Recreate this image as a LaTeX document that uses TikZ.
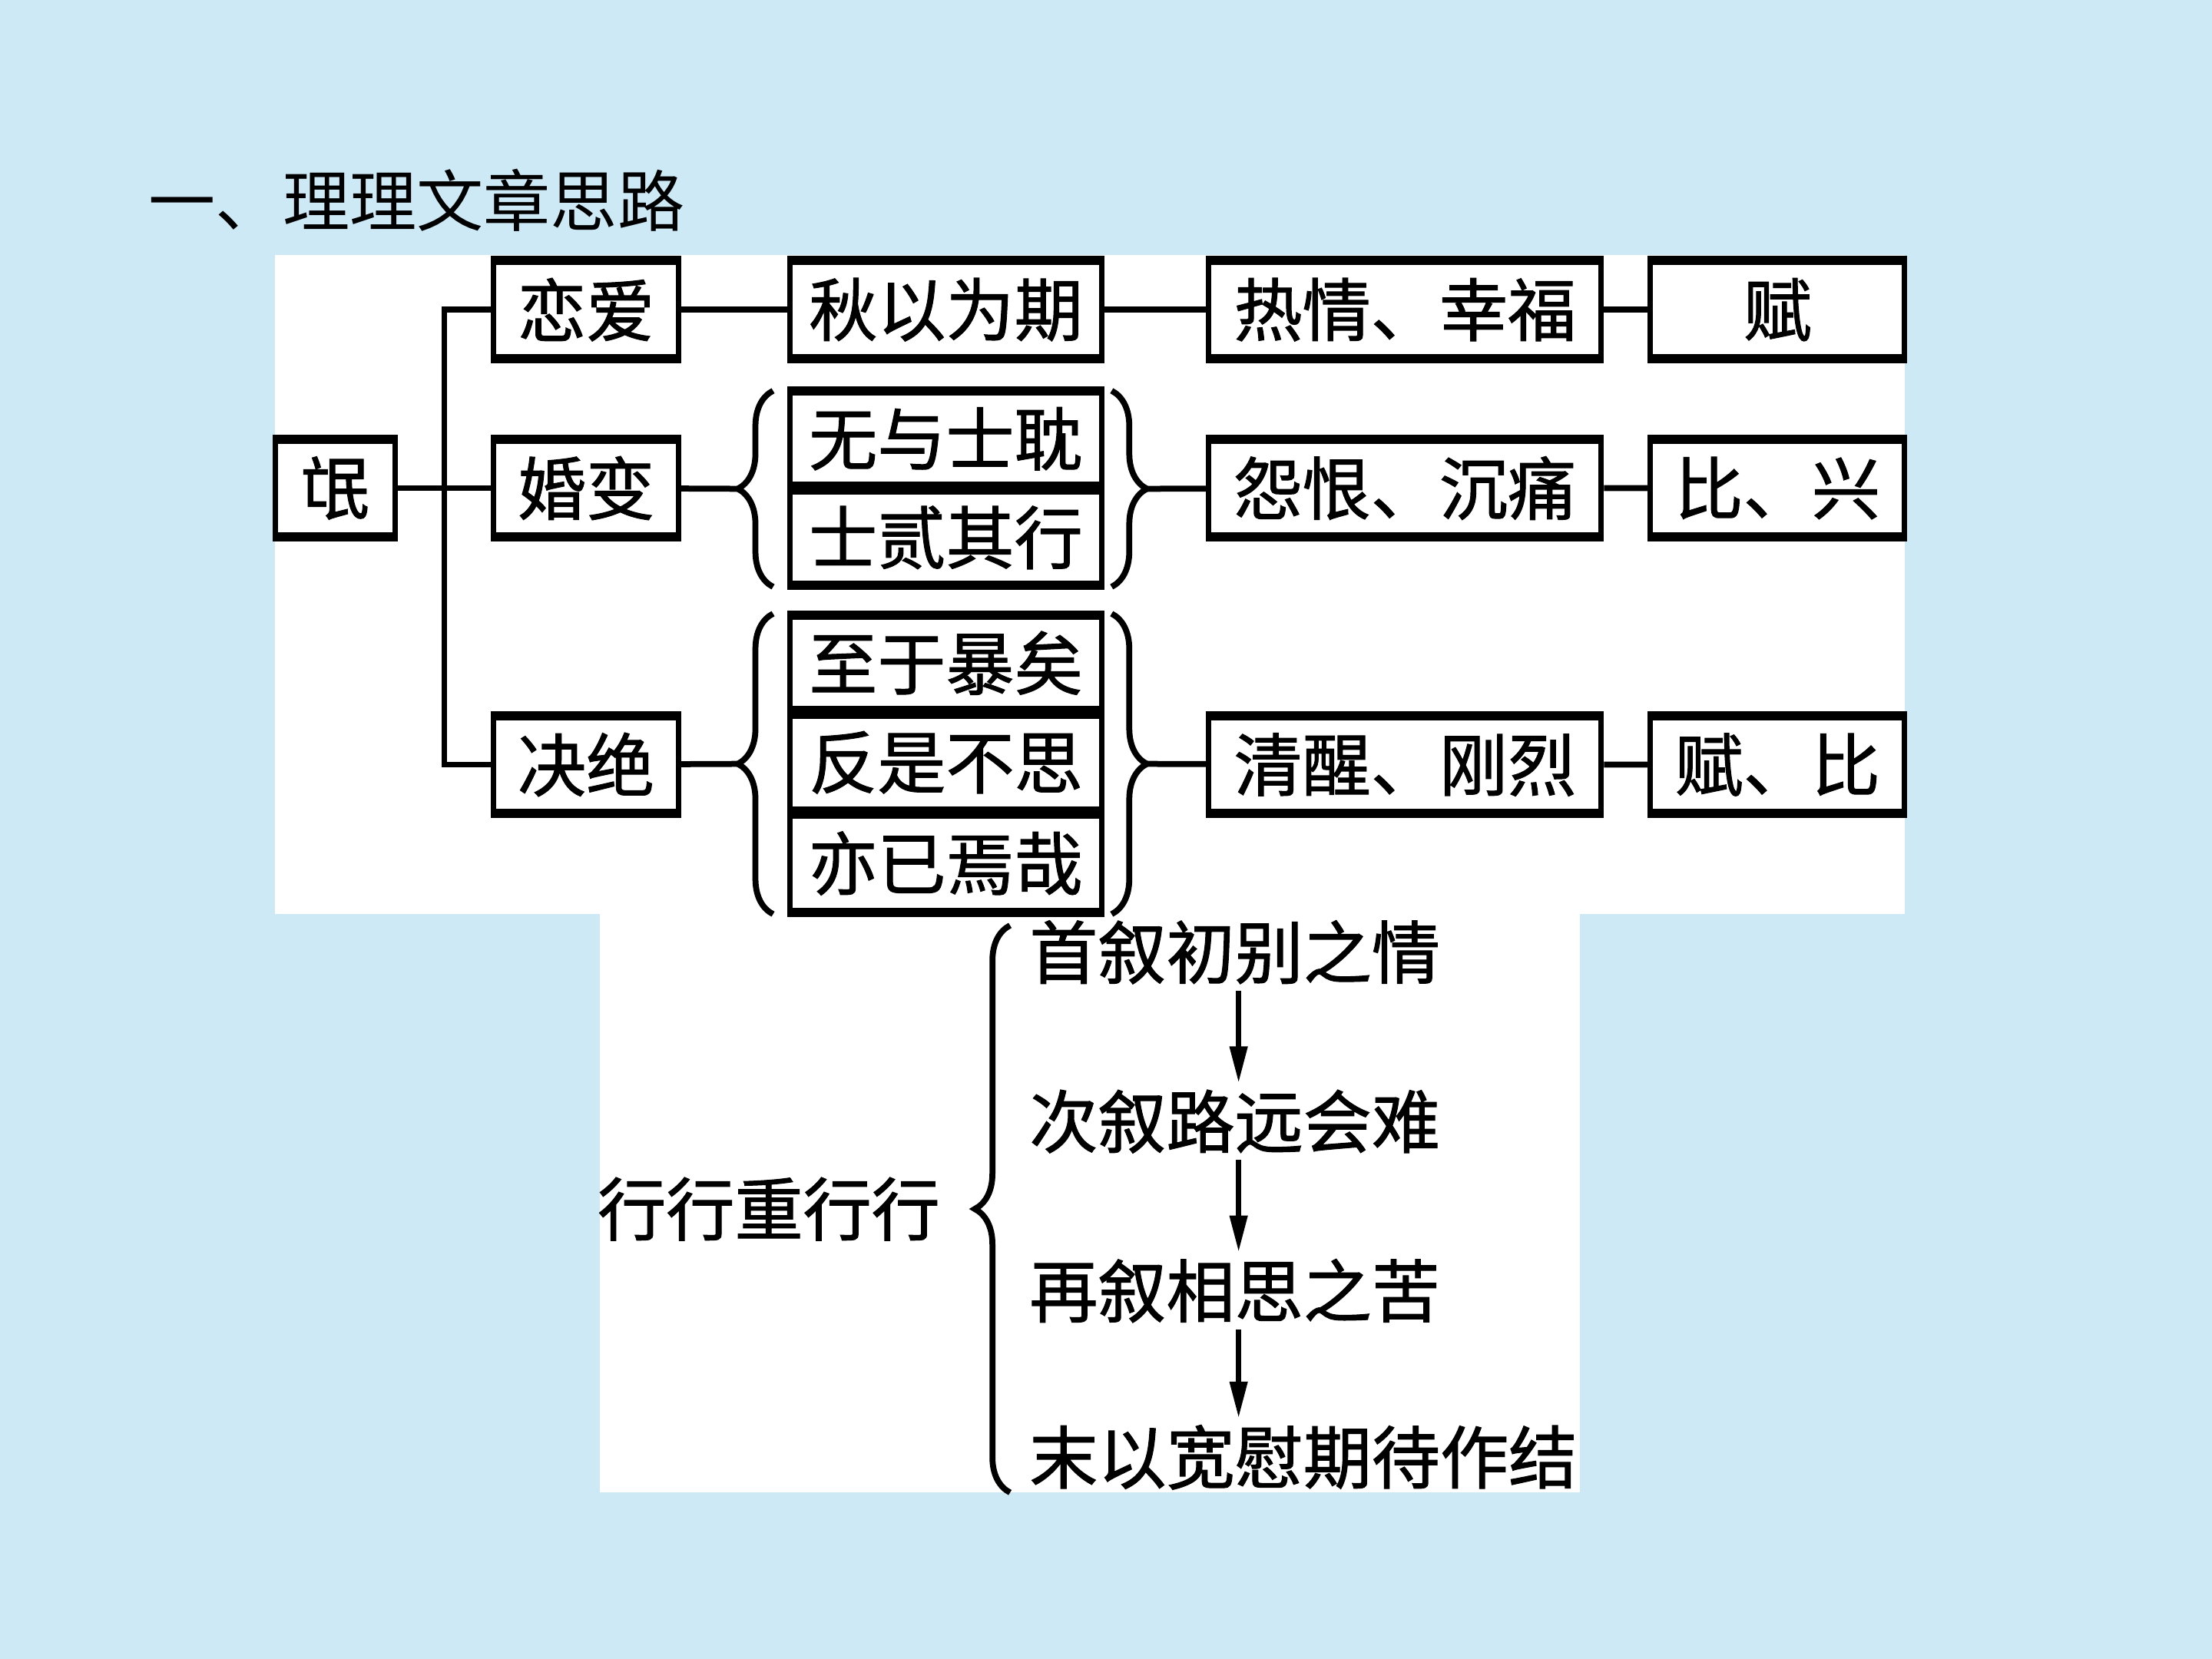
\documentclass[tikz,border=0pt]{standalone}
\usepackage{fontspec}
\usetikzlibrary{arrows.meta,decorations.pathreplacing}
\newfontfamily\cjk{Noto Sans CJK SC}
\newfontfamily\cjkb[FakeBold=1.2]{Noto Sans CJK SC}
\definecolor{slide}{RGB}{205,233,245}

\begin{document}
\begin{tikzpicture}[x=0.01cm, y=-0.01cm,
  every node/.style={font=\cjkb\fontsize{13.8pt}{16pt}\selectfont},
  box/.style={draw,line width=1.1pt,minimum height=0.72cm,inner sep=0pt,
    path picture={\draw[line width=2.6pt] (path picture bounding box.north west) -- (path picture bounding box.north east)
      (path picture bounding box.south west) -- (path picture bounding box.south east);}},
  link/.style={line width=1.2pt},
  curly/.style={line width=1.2pt,decorate,decoration={brace,amplitude=0.25cm}},
  line/.style={anchor=west,inner sep=0.04cm},
  flow/.style={line width=1.1pt,-{Triangle[length=0.26cm,width=0.12cm]}}]
% slide
\fill[slide] (0,0) rectangle (1568,1176);
\useasboundingbox (0,0) rectangle (1568,1176);
\fill[white] (195,181) rectangle (1350,648);
\fill[white] (425,648) rectangle (1120,1058);
\node[anchor=west,font=\cjk\fontsize{13.5pt}{16pt}\selectfont] (title) at (93,142) {一、理理文章思路};
% poem tree
\node[box,minimum width=0.85cm] (mang) at (237.5,346) {氓};
\node[box,minimum width=1.31cm] (lian) at (415.5,219.5) {恋爱};
\node[box,minimum width=1.31cm] (hun) at (415.5,346) {婚变};
\node[box,minimum width=1.31cm] (jue) at (415.5,542) {决绝};
\node[box,minimum width=2.21cm] (qiu) at (670.5,219.5) {秋以为期};
\node[box,minimum width=2.21cm,minimum height=0.70cm] (wu) at (670.5,311) {无与士耽};
\node[box,minimum width=2.21cm,minimum height=0.70cm] (shi) at (670.5,381) {士贰其行};
\node[box,minimum width=2.21cm,minimum height=0.70cm] (zhi) at (670.5,470) {至于暴矣};
\node[box,minimum width=2.21cm,minimum height=0.71cm] (fan) at (670.5,540.5) {反是不思};
\node[box,minimum width=2.21cm,minimum height=0.72cm] (yi) at (670.5,612) {亦已焉哉};
\node[box,minimum width=2.78cm] (re) at (996,219.5) {热情、幸福};
\node[box,minimum width=2.78cm] (yuan) at (996,346) {怨恨、沉痛};
\node[box,minimum width=2.78cm] (qing) at (996,542) {清醒、刚烈};
\node[box,minimum width=1.80cm] (fu) at (1260,219.5) {赋};
\node[box,minimum width=1.80cm] (bi) at (1260,346) {比、兴};
\node[box,minimum width=1.80cm] (fubi) at (1260,542) {赋、比};
% braces
\draw[curly] (548,416) -- (548,277);
\draw[curly] (788,277) -- (788,416);
\draw[curly] (548,648) -- (548,435);
\draw[curly] (788,435) -- (788,648);
\coordinate (hunL) at (523,346.5);
\coordinate (hunR) at (813,346.5);
\coordinate (jueL) at (523,541.5);
\coordinate (jueR) at (813,541.5);
\coordinate (spine) at (315,542);
% links
\draw[link] (mang) -- (hun);
\draw[link] (lian.west) -| (spine) -- (jue.west);
\draw[link] (lian) -- (qiu) -- (re) -- (fu);
\draw[link] (hun) -- (hunL);
\draw[link] (hunR) -- (yuan) -- (bi);
\draw[link] (jue) -- (jueL);
\draw[link] (jueR) -- (qing) -- (fubi);
% second poem
\node[line] (xing) at (419,857) {行行重行行};
\draw[curly] (716,1058) -- (716,656);
\node[line] (s1) at (725,675) {首叙初别之情};
\node[line] (s2) at (725,795) {次叙路远会难};
\node[line] (s3) at (725,915) {再叙相思之苦};
\node[line] (s4) at (725,1033) {末以宽慰期待作结};
\coordinate (ax) at (878,0);
\draw[flow] (s1.south -| ax) -- (s2.north -| ax);
\draw[flow] (s2.south -| ax) -- (s3.north -| ax);
\draw[flow] (s3.south -| ax) -- (s4.north -| ax);
\end{tikzpicture}
\end{document}
